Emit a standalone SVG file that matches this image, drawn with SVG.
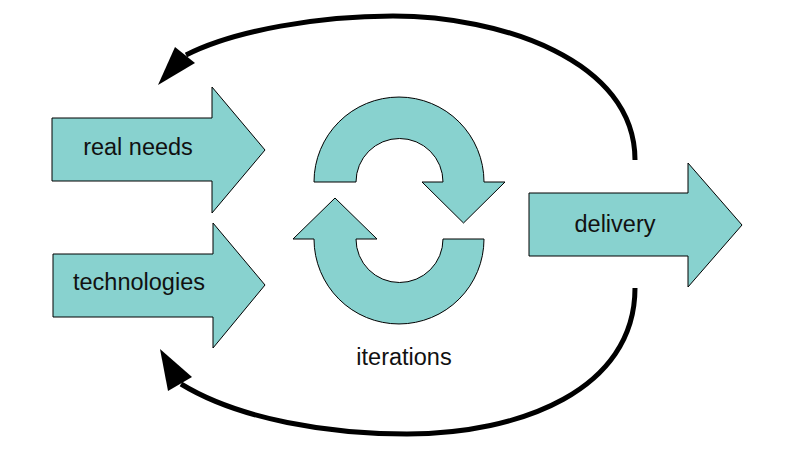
<svg xmlns="http://www.w3.org/2000/svg" width="786" height="454" viewBox="0 0 786 454">
<style>
.shape{fill:#88d2cf;stroke:#000;stroke-width:1;stroke-linejoin:miter}
.lbl{font-family:"Liberation Sans",Arial,sans-serif;font-size:23.5px;fill:#111}
.curve{fill:none;stroke:#000;stroke-width:5}
.head{fill:#000;stroke:none}
</style>
<rect width="786" height="454" fill="#fff"/>
<g id="connectors">
<path class="curve" d="M635,160 C635,60 500,16 393,16 C320,16 235,30 186,55"/>
<polygon class="head" points="158,85 175,47 195,63"/>
<path class="curve" d="M635,288 C635,390 520,434 407,434 C330,434 240,420 181,384"/>
<polygon class="head" points="160,349 168,391 192,377"/>
</g>
<g id="real-needs">
<path class="shape" d="M52,118 L212,118 L212,87 L265,150 L212,213 L212,181 L52,181 Z"/>
<text class="lbl" x="138" y="155" text-anchor="middle">real needs</text>
</g>
<g id="technologies">
<path class="shape" d="M53,254 L213,254 L213,223 L265,285 L213,348 L213,317 L53,317 Z"/>
<text class="lbl" x="139" y="290" text-anchor="middle">technologies</text>
</g>
<g id="iterations">
<path class="shape" d="M314,182 A85,85 0 0 1 484,182 L505,182 L463.5,223 L422,182 L443,182 A43.5,43.5 0 0 0 356,182 Z"/>
<path class="shape" d="M484,239 A85,85 0 0 1 314,239 L293,239 L335,198 L377,239 L356,239 A43.5,43.5 0 0 0 443,239 Z"/>
<text class="lbl" x="404" y="365" text-anchor="middle">iterations</text>
</g>
<g id="delivery">
<path class="shape" d="M529,193 L688,193 L688,163 L742,225 L688,287 L688,256 L529,256 Z"/>
<text class="lbl" x="615" y="232" text-anchor="middle">delivery</text>
</g>
</svg>
